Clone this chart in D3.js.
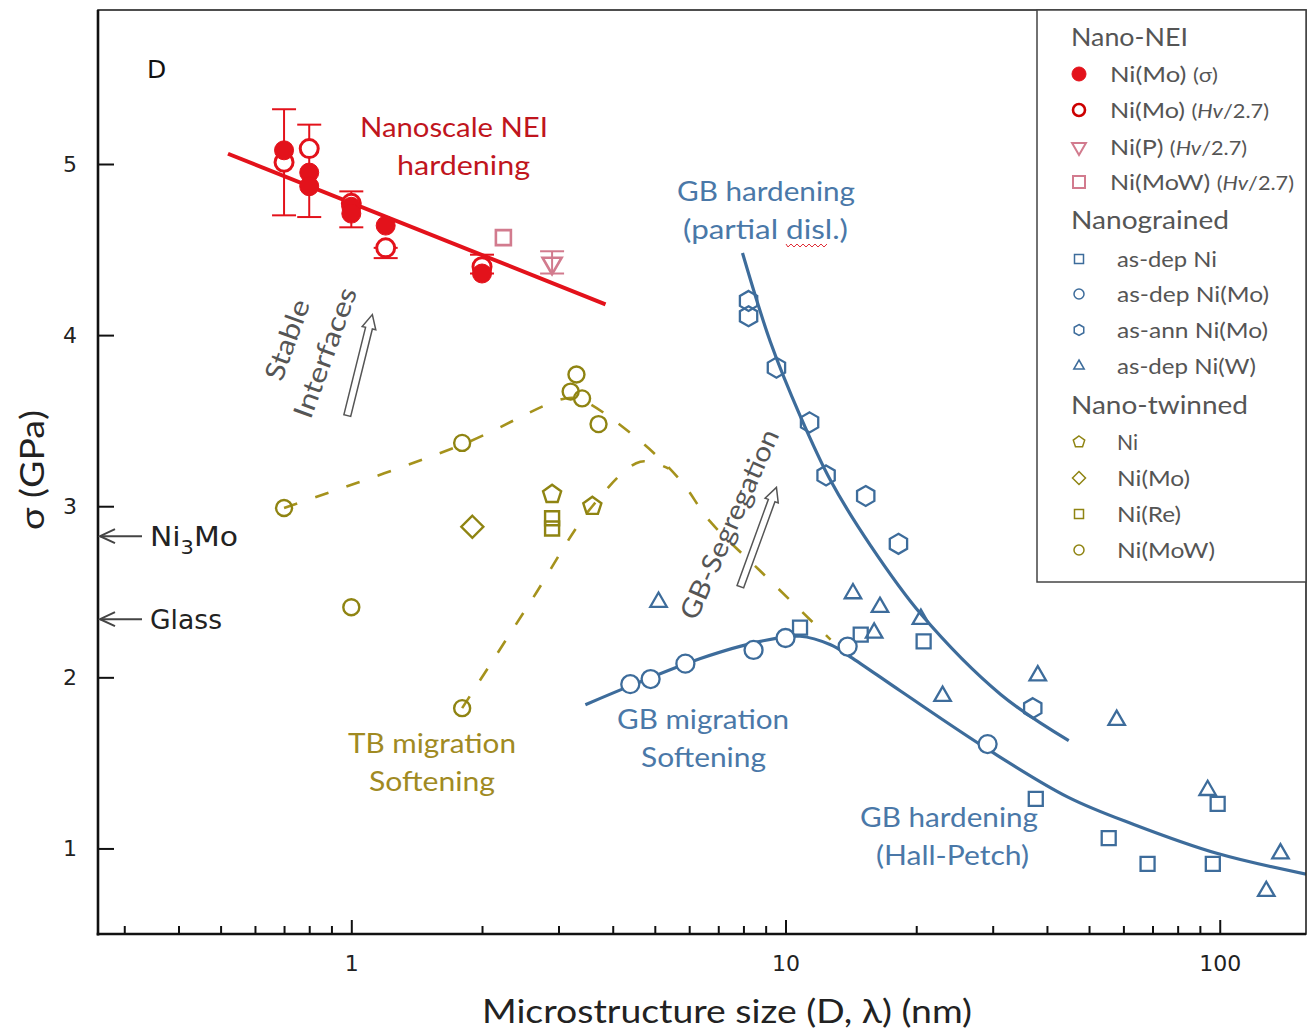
<!DOCTYPE html>
<html><head><meta charset="utf-8">
<script src="https://cdn.jsdelivr.net/npm/d3@7"></script>
<style>body{margin:0;background:#fff}svg{display:block}</style>
</head><body><svg id="c" width="1310" height="1032"></svg>
<script>
// ---------------- DATA ----------------
const xTickMajor = [1, 10, 100];
const xTickMinor = [0.3,0.4,0.5,0.6,0.7,0.8,0.9,2,3,4,5,6,7,8,9,20,30,40,50,60,70,80,90];
const yTicks = [1, 2, 3, 4, 5];

// Nano-NEI
const neiMoSigma = [[0.70,5.08],[0.80,4.95],[0.80,4.87],[1.0,4.75],[1.0,4.71],[1.20,4.64],[2.0,4.36]];
const neiMoHv = [[0.70,5.01],[0.80,5.09],[1.0,4.77],[1.2,4.51],[2.0,4.40]];
const neiPHv = [[2.90,4.42]];
const neiMoWHv = [[2.24,4.57]];
const neiErrorBars = [[0.70,4.70,5.32],[0.80,4.69,5.23],[1.0,4.63,4.84],[1.2,4.45,4.51],[2.0,4.36,4.47],[2.90,4.36,4.49]];
const neiFit = [[0.52,5.06],[3.85,4.18]];

// Nanograined
const ngAsDepNi = [[10.8,2.29],[14.9,2.25],[20.8,2.21],[37.7,1.29],[55.5,1.06],[68.2,0.91],[96.4,0.91],[98.9,1.26]];
const ngAsDepNiMo = [[4.39,1.96],[4.89,1.99],[5.88,2.08],[8.44,2.16],[10.0,2.23],[13.9,2.18],[29.2,1.61]];
const ngAsAnnNiMo = [[8.22,4.20],[8.22,4.11],[9.53,3.81],[11.36,3.49],[12.4,3.18],[15.3,3.06],[18.2,2.78],[37.1,1.82]];
const ngAsDepNiW = [[5.10,2.44],[14.3,2.49],[16.5,2.41],[20.5,2.34],[16.0,2.26],[23.0,1.89],[38.1,2.01],[57.9,1.75],[93.8,1.34],[138,0.97],[128,0.75]];
const ngFitPartial = [[7.96,4.48],[9.23,3.96],[10.8,3.53],[12.7,3.15],[15.7,2.77],[20.5,2.37],[31.3,1.90],[44.9,1.63]];
const ngFitHallPetch = [[3.46,1.84],[4.39,1.95],[6.37,2.11],[8.76,2.21],[10.8,2.24],[12.7,2.19],[14.1,2.12],[18.4,1.92],[29.2,1.58],[44.7,1.30],[63.4,1.14],[98.9,0.97],[158,0.85]];

// Nano-twinned
const ntNi = [[2.90,3.07],[3.59,3.00]];
const ntNiMo = [[1.90,2.88]];
const ntNiRe = [[2.90,2.93],[2.90,2.87]];
const ntNiMoW = [[0.70,2.99],[1.80,3.37],[3.30,3.77],[3.20,3.67],[3.40,3.63],[3.71,3.48],[1.0,2.41],[1.80,1.82]];
const ntDash1 = [[0.70,2.99],[1.80,3.36],[3.11,3.63],[3.40,3.62],[4.63,3.38],[5.73,3.15],[6.71,2.91],[8.76,2.62],[12.7,2.22]];
const ntDash2 = [[1.80,1.82],[2.6,2.45],[3.59,3.0],[4.63,3.26],[5.38,3.22]];

// reference levels
const refLevels = [{label:"Ni3Mo", value:2.825},{label:"Glass", value:2.34}];

// ---------------- CHART ----------------
const svg = d3.select("#c");
const L = 98, R = 1306, T = 10, B = 934;
const x = d3.scaleLog().domain([0.261, 158]).range([L, R]);
const y = d3.scaleLinear().domain([0.5, 5.9]).range([B, T]);

const RED = "#e3121b", RED_T = "#c0151d", PINK = "#d27b8e";
const BLUE = "#3d6c9b", BLUE_T = "#4a78a8";
const OLIVE = "#8f8412", OLIVE_L = "#a5921c", OLIVE_T = "#a08a22";
const GRAY = "#555";
const FONT = "Lato, 'Open Sans', sans-serif";

function fit(sel, len) {
  return sel.attr("textLength", len).attr("lengthAdjust", "spacingAndGlyphs");
}

function poly(n, r, rot) {
  const p = [];
  for (let i = 0; i < n; i++) {
    const a = rot + i * 2 * Math.PI / n;
    p.push([r * Math.sin(a), -r * Math.cos(a)]);
  }
  return "M" + p.map(d => d[0].toFixed(2) + "," + d[1].toFixed(2)).join("L") + "Z";
}
const shapes = {
  circle: r => `M${-r},0A${r},${r} 0 1,0 ${r},0A${r},${r} 0 1,0 ${-r},0Z`,
  square: r => poly(4, r * Math.SQRT2, Math.PI / 4),
  triUp: r => poly(3, r, 0),
  triDown: r => poly(3, r, Math.PI),
  pent: r => poly(5, r, 0),
  hex: r => poly(6, r, 0),
  diamond: r => poly(4, r, 0)
};

svg.append("defs").append("clipPath").attr("id", "pa")
  .append("rect").attr("x", L).attr("y", T).attr("width", R - L).attr("height", B - T);
const plot = svg.append("g").attr("clip-path", "url(#pa)");

function drawPts(data, shape, r, opt) {
  plot.append("g").selectAll("path").data(data).join("path")
    .attr("transform", d => `translate(${x(d[0])},${y(d[1])})`)
    .attr("d", shapes[shape](r))
    .attr("fill", opt.fill || "none")
    .attr("stroke", opt.stroke)
    .attr("stroke-width", opt.sw || 2.5);
}

const lineGen = d3.line().x(d => x(d[0])).y(d => y(d[1]));
const curveGen = d3.line().x(d => x(d[0])).y(d => y(d[1])).curve(d3.curveCatmullRom.alpha(0.5));

// olive dashed lines
[ntDash1, ntDash2].forEach(dd => plot.append("path").attr("d", curveGen(dd)).attr("fill", "none")
  .attr("stroke", OLIVE_L).attr("stroke-width", 2.6).attr("stroke-dasharray", "14,19"));

// blue fits
plot.append("path").attr("d", curveGen(ngFitPartial)).attr("fill", "none").attr("stroke", BLUE).attr("stroke-width", 3.2);
plot.append("path").attr("d", curveGen(ngFitHallPetch)).attr("fill", "none").attr("stroke", BLUE).attr("stroke-width", 3.2);

// red fit
plot.append("path").attr("d", lineGen(neiFit)).attr("fill", "none").attr("stroke", RED).attr("stroke-width", 4);

// error bars
const eb = plot.append("g");
neiErrorBars.forEach((d, i) => {
  const col = i === neiErrorBars.length - 1 ? PINK : RED;
  const cx = x(d[0]);
  eb.append("line").attr("x1", cx).attr("x2", cx).attr("y1", y(d[1])).attr("y2", y(d[2])).attr("stroke", col).attr("stroke-width", 2);
  [d[1], d[2]].forEach(v => eb.append("line").attr("x1", cx - 12).attr("x2", cx + 12).attr("y1", y(v)).attr("y2", y(v)).attr("stroke", col).attr("stroke-width", 2));
});

// markers
drawPts(ntNiMoW, "circle", 8, {stroke: OLIVE, sw: 2.4});
drawPts(ntNi, "pent", 9.5, {stroke: OLIVE, sw: 2.4});
drawPts(ntNiMo, "diamond", 11, {stroke: OLIVE, sw: 2.4});
drawPts(ntNiRe, "square", 7, {stroke: OLIVE, sw: 2.4});

drawPts(ngAsDepNi, "square", 7, {stroke: BLUE, sw: 2.3});
drawPts(ngAsDepNiMo, "circle", 9, {stroke: BLUE, sw: 2.3, fill: "#fff"});
drawPts(ngAsAnnNiMo, "hex", 10, {stroke: BLUE, sw: 2.3});
drawPts(ngAsDepNiW, "triUp", 9.5, {stroke: BLUE, sw: 2.3});

drawPts(neiMoHv, "circle", 9, {stroke: RED, sw: 3, fill: "#fff"});
drawPts(neiMoSigma, "circle", 9.5, {stroke: RED, sw: 1, fill: RED});
drawPts(neiMoWHv, "square", 7.5, {stroke: PINK, sw: 2.6});
drawPts(neiPHv, "triDown", 11, {stroke: PINK, sw: 2.6});

// ---------------- AXES / FRAME ----------------
svg.append("rect").attr("x", L).attr("y", T).attr("width", R - L).attr("height", B - T)
  .attr("fill", "none").attr("stroke", "#222").attr("stroke-width", 1.6);
svg.append("line").attr("x1", L).attr("x2", L).attr("y1", T).attr("y2", B + 1.5).attr("stroke", "#111").attr("stroke-width", 2.6);
svg.append("line").attr("x1", L - 1.3).attr("x2", R).attr("y1", B).attr("y2", B).attr("stroke", "#111").attr("stroke-width", 2.6);

const xAx = svg.append("g").attr("transform", `translate(0,${B})`)
  .call(d3.axisBottom(x).tickValues(xTickMajor).tickFormat(d3.format("d")).tickSize(-14).tickPadding(21));
const xMin = svg.append("g").attr("transform", `translate(0,${B})`)
  .call(d3.axisBottom(x).tickValues(xTickMinor).tickFormat("").tickSize(-8));
const yAx = svg.append("g").attr("transform", `translate(${L},0)`)
  .call(d3.axisLeft(y).tickValues(yTicks).tickFormat(d3.format("d")).tickSize(-16).tickPadding(21));
[xAx, xMin, yAx].forEach(g => {
  g.select(".domain").remove();
  g.selectAll(".tick line").attr("stroke", "#111").attr("stroke-width", 2);
  g.selectAll(".tick text").attr("font-family", "'DejaVu Sans', sans-serif").attr("font-size", 22).attr("fill", "#222");
});

fit(svg.append("text").attr("x", 482).attr("y", 1023)
  .attr("font-family", FONT).attr("font-size", 32).attr("fill", "#222").text("Microstructure size (D, λ) (nm)"), 490);
fit(svg.append("text").attr("transform", "translate(44,530) rotate(-90)")
  .attr("font-family", FONT).attr("font-size", 32).attr("fill", "#222").text("σ (GPa)"), 120);

svg.append("text").attr("x", 147).attr("y", 78).attr("font-family", "'DejaVu Sans', sans-serif")
  .attr("font-size", 25).attr("fill", "#111").text("D");

// reference arrows (Ni3Mo, Glass)
refLevels.forEach(r => {
  const yy = y(r.value);
  const g = svg.append("g").attr("stroke", "#444").attr("stroke-width", 2).attr("fill", "none");
  g.append("line").attr("x1", L + 2).attr("x2", L + 44).attr("y1", yy).attr("y2", yy);
  g.append("path").attr("d", `M${L + 17},${yy - 7}L${L + 2},${yy}L${L + 17},${yy + 7}`);
  const t = svg.append("text").attr("x", L + 52).attr("y", yy + 10)
    .attr("font-family", "'DejaVu Sans', sans-serif").attr("font-size", 27).attr("fill", "#222");
  if (r.label === "Ni3Mo") {
    t.append("tspan").text("Ni");
    t.append("tspan").attr("font-size", 19).attr("dy", 8).text("3");
    t.append("tspan").attr("dy", -8).text("Mo");
    fit(t, 88);
  } else { t.text(r.label); fit(t, 72); }
});

// ---------------- ANNOTATIONS ----------------
function label(x0, yb, s, col, len) {
  return fit(svg.append("text").attr("x", x0).attr("y", yb).attr("font-family", FONT)
    .attr("font-size", 27).attr("fill", col).text(s), len);
}
label(360, 137, "Nanoscale NEI", RED_T, 188);
label(397, 175, "hardening", RED_T, 133);
label(677, 201, "GB hardening", BLUE_T, 178);
label(683, 239, "(partial disl.)", BLUE_T, 165);
label(617, 729, "GB migration", BLUE_T, 172);
label(641, 767, "Softening", BLUE_T, 125);
label(860, 827, "GB hardening", BLUE_T, 178);
label(876, 865, "(Hall-Petch)", BLUE_T, 153);
label(348, 753, "TB migration", OLIVE_T, 168);
label(369, 791, "Softening", OLIVE_T, 126);

// spell-check squiggle under "disl."
{
  let d = "M786,244"; for (let i = 0; i < 14; i++) d += `L${788 + i * 3},${i % 2 ? 244 : 247}`;
  svg.append("path").attr("d", d).attr("fill", "none").attr("stroke", "#e0303a").attr("stroke-width", 1);
}

// rotated texts
function rot(cx, cy, a, s, len) {
  fit(svg.append("text").attr("transform", `translate(${cx},${cy}) rotate(${a})`).attr("text-anchor", "middle")
    .attr("font-family", FONT).attr("font-size", 27).attr("fill", GRAY).text(s), len);
}
rot(296, 343, -70, "Stable", 84);
rot(334, 356, -70, "Interfaces", 137);
rot(738, 528, -66, "GB-Segregation", 205);

// hollow arrows
function hollowArrow(x0, y0, x1, y1) {
  const dx = x1 - x0, dy = y1 - y0, len = Math.hypot(dx, dy);
  const a = Math.atan2(dy, dx) * 180 / Math.PI;
  const sw = 3.5, hw = 7, hl = 14;
  const p = `M0,${-sw}L${len - hl},${-sw}L${len - hl},${-hw}L${len},0L${len - hl},${hw}L${len - hl},${sw}L0,${sw}Z`;
  svg.append("path").attr("transform", `translate(${x0},${y0}) rotate(${a})`).attr("d", p)
    .attr("fill", "#fff").attr("stroke", "#555").attr("stroke-width", 1.5);
}
hollowArrow(x(0.979), y(3.53), x(1.118), y(4.12));
hollowArrow(x(7.87), y(2.53), x(9.53), y(3.11));

// ---------------- LEGEND ----------------
const lg = svg.append("g");
lg.append("rect").attr("x", 1037).attr("y", T).attr("width", R - 1037).attr("height", 572)
  .attr("fill", "#fff").attr("stroke", "#444").attr("stroke-width", 1.5);
const legendItems = [
  {h: "Nano-NEI", y: 37, w: 117},
  {s: "circle", r: 7, fill: RED, stroke: RED, sw: 1, y: 74, t: ["Ni(Mo) ", "(σ)"], tx: 1110, w: 108},
  {s: "circle", r: 6, fill: "#fff", stroke: "#c00", sw: 2.6, y: 110, t: ["Ni(Mo) ", "(Hv/2.7)"], tx: 1110, w: 159},
  {s: "triDown", r: 8, stroke: PINK, sw: 2, y: 147, t: ["Ni(P) ", "(Hv/2.7)"], tx: 1110, w: 137},
  {s: "square", r: 6, stroke: PINK, sw: 2, y: 182, t: ["Ni(MoW) ", "(Hv/2.7)"], tx: 1110, w: 184},
  {h: "Nanograined", y: 220, w: 158},
  {s: "square", r: 4.5, stroke: BLUE, sw: 1.5, y: 259, t: ["as-dep Ni"], tx: 1117, w: 100},
  {s: "circle", r: 5, stroke: BLUE, sw: 1.5, y: 294, t: ["as-dep Ni(Mo)"], tx: 1117, w: 152},
  {s: "hex", r: 5.5, stroke: BLUE, sw: 1.5, y: 330, t: ["as-ann Ni(Mo)"], tx: 1117, w: 151},
  {s: "triUp", r: 6, stroke: BLUE, sw: 1.5, y: 366, t: ["as-dep Ni(W)"], tx: 1117, w: 139},
  {h: "Nano-twinned", y: 405, w: 177},
  {s: "pent", r: 6, stroke: OLIVE, sw: 1.5, y: 442, t: ["Ni"], tx: 1117, w: 21},
  {s: "diamond", r: 6.5, stroke: OLIVE, sw: 1.5, y: 478, t: ["Ni(Mo)"], tx: 1117, w: 73},
  {s: "square", r: 4.5, stroke: OLIVE, sw: 1.5, y: 514, t: ["Ni(Re)"], tx: 1117, w: 64},
  {s: "circle", r: 5, stroke: OLIVE, sw: 1.5, y: 550, t: ["Ni(MoW)"], tx: 1117, w: 98}
];
legendItems.forEach(it => {
  if (it.h) {
    fit(lg.append("text").attr("x", 1071).attr("y", it.y + 9).attr("font-family", FONT).attr("font-size", 25)
      .attr("fill", GRAY).text(it.h), it.w);
    return;
  }
  lg.append("path").attr("transform", `translate(1079,${it.y})`).attr("d", shapes[it.s](it.r))
    .attr("fill", it.fill || "none").attr("stroke", it.stroke).attr("stroke-width", it.sw);
  const t = lg.append("text").attr("x", it.tx).attr("y", it.y + 8).attr("font-family", FONT)
    .attr("font-size", 22).attr("fill", GRAY);
  t.append("tspan").text(it.t[0]);
  if (it.t[1]) {
    const sm = t.append("tspan").attr("font-size", 19);
    if (it.t[1].startsWith("(Hv")) {
      sm.append("tspan").text("(");
      sm.append("tspan").attr("font-style", "italic").text("Hv");
      sm.append("tspan").text("/2.7)");
    } else sm.text(it.t[1]);
  }
  fit(t, it.w);
});
</script></body></html>
